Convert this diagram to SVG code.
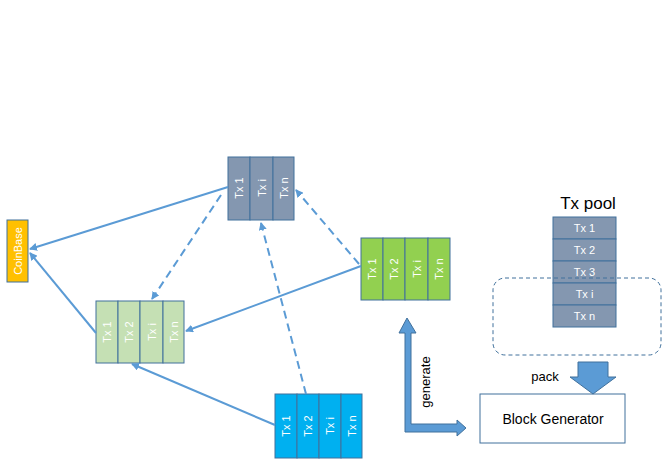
<svg xmlns="http://www.w3.org/2000/svg" width="667" height="465" viewBox="0 0 667 465">
<defs>
<marker id="ah" markerWidth="8" markerHeight="8" refX="7" refY="4" orient="auto" markerUnits="userSpaceOnUse"><path d="M0,0 L8,4 L0,8 z" fill="#5b9bd5"/></marker>
<style>
.cell{stroke:#41719c;stroke-width:1}
.vt{font-family:"Liberation Sans",Arial,sans-serif;font-size:11px;fill:#fff;text-anchor:middle;dominant-baseline:central}
.ln{stroke:#5b9bd5;stroke-width:2;fill:none}
.dash{stroke-dasharray:8,5}
</style>
</defs>
<rect width="667" height="465" fill="#fff"/>
<g id="coinbase"><rect x="7" y="220" width="21" height="62" fill="#ffc000" class="cell"/><text class="vt" transform="translate(17.5,251) rotate(-90)">CoinBase</text></g>
<g id="block-grey" >
<rect x="228" y="157" width="22" height="63" fill="#8497b0" class="cell"/><rect x="250" y="157" width="23" height="63" fill="#8497b0" class="cell"/><rect x="273" y="157" width="21" height="63" fill="#8497b0" class="cell"/>
<text class="vt" transform="translate(239,188) rotate(-90)">Tx 1</text><text class="vt" transform="translate(261.5,188) rotate(-90)">Tx i</text><text class="vt" transform="translate(283.5,188) rotate(-90)">Tx n</text></g>
<g id="block-lightgreen">
<rect x="96" y="301" width="22" height="62" fill="#c5e0b4" class="cell"/><rect x="118" y="301" width="22" height="62" fill="#c5e0b4" class="cell"/><rect x="140" y="301" width="23" height="62" fill="#c5e0b4" class="cell"/><rect x="163" y="301" width="21" height="62" fill="#c5e0b4" class="cell"/>
<text class="vt" transform="translate(107,332) rotate(-90)">Tx 1</text><text class="vt" transform="translate(129,332) rotate(-90)">Tx 2</text><text class="vt" transform="translate(151.5,332) rotate(-90)">Tx i</text><text class="vt" transform="translate(173.5,332) rotate(-90)">Tx n</text></g>
<g id="block-green">
<rect x="361" y="238" width="22" height="62" fill="#92d050" class="cell"/><rect x="383" y="238" width="22" height="62" fill="#92d050" class="cell"/><rect x="405" y="238" width="23" height="62" fill="#92d050" class="cell"/><rect x="428" y="238" width="22" height="62" fill="#92d050" class="cell"/>
<text class="vt" transform="translate(372,269) rotate(-90)">Tx 1</text><text class="vt" transform="translate(394,269) rotate(-90)">Tx 2</text><text class="vt" transform="translate(416.5,269) rotate(-90)">Tx i</text><text class="vt" transform="translate(439,269) rotate(-90)">Tx n</text></g>
<g id="block-blue">
<rect x="275" y="394" width="22" height="64" fill="#00b0f0" class="cell"/><rect x="297" y="394" width="22" height="64" fill="#00b0f0" class="cell"/><rect x="319" y="394" width="22" height="64" fill="#00b0f0" class="cell"/><rect x="341" y="394" width="21" height="64" fill="#00b0f0" class="cell"/>
<text class="vt" transform="translate(286,426) rotate(-90)">Tx 1</text><text class="vt" transform="translate(308,426) rotate(-90)">Tx 2</text><text class="vt" transform="translate(330,426) rotate(-90)">Tx i</text><text class="vt" transform="translate(351.5,426) rotate(-90)">Tx n</text></g>
<g id="txpool">
<text x="588" y="209" font-family="'Liberation Sans',Arial,sans-serif" font-size="17" text-anchor="middle">Tx pool</text>
<rect x="553" y="217" width="63" height="22" fill="#8497b0" class="cell"/><rect x="553" y="239" width="63" height="22" fill="#8497b0" class="cell"/><rect x="553" y="261" width="63" height="22" fill="#8497b0" class="cell"/><rect x="553" y="283" width="63" height="22" fill="#8497b0" class="cell"/><rect x="553" y="305" width="63" height="22" fill="#8497b0" class="cell"/>
<g font-family="'Liberation Sans',Arial,sans-serif" font-size="11" fill="#fff" text-anchor="middle"><text x="584.5" y="232">Tx 1</text><text x="584.5" y="254">Tx 2</text><text x="584.5" y="276">Tx 3</text><text x="584.5" y="298">Tx i</text><text x="584.5" y="320">Tx n</text></g>
<rect x="493" y="278" width="168" height="77" rx="12" fill="none" stroke="#41719c" stroke-dasharray="4,3"/>
</g>
<g id="block-generator"><rect x="480" y="394" width="145" height="49" fill="#fff" stroke="#41719c"/><text x="553" y="424" font-family="'Liberation Sans',Arial,sans-serif" font-size="14" text-anchor="middle">Block Generator</text></g>
<g id="connectors">
<line class="ln" x1="228" y1="187" x2="30" y2="249" marker-end="url(#ah)"/>
<line class="ln" x1="96" y1="333" x2="30" y2="253" marker-end="url(#ah)"/>
<line class="ln" x1="361" y1="266" x2="186" y2="331" marker-end="url(#ah)"/>
<line class="ln" x1="275" y1="425" x2="132" y2="364" marker-end="url(#ah)"/>
<line class="ln dash" x1="221" y1="195" x2="152" y2="299" marker-end="url(#ah)"/>
<line class="ln dash" x1="359" y1="264" x2="296" y2="190" marker-end="url(#ah)"/>
<line class="ln dash" x1="306" y1="394" x2="261" y2="223" marker-end="url(#ah)"/>
<path d="M578,362 H608 V377 H616 L593,394 L570,377 H578 Z" fill="#5b9bd5" stroke="#41719c"/>
<text x="545" y="381" font-family="'Liberation Sans',Arial,sans-serif" font-size="13" text-anchor="middle">pack</text>
<path d="M407,318 L399,333 H405 V432 H457 V436 L466,428 L457,420 V424 H411 V333 H416 Z" fill="#5b9bd5" stroke="#41719c"/>
<text transform="translate(430,382) rotate(-90)" font-family="'Liberation Sans',Arial,sans-serif" font-size="13" text-anchor="middle">generate</text>
</g>
</svg>
